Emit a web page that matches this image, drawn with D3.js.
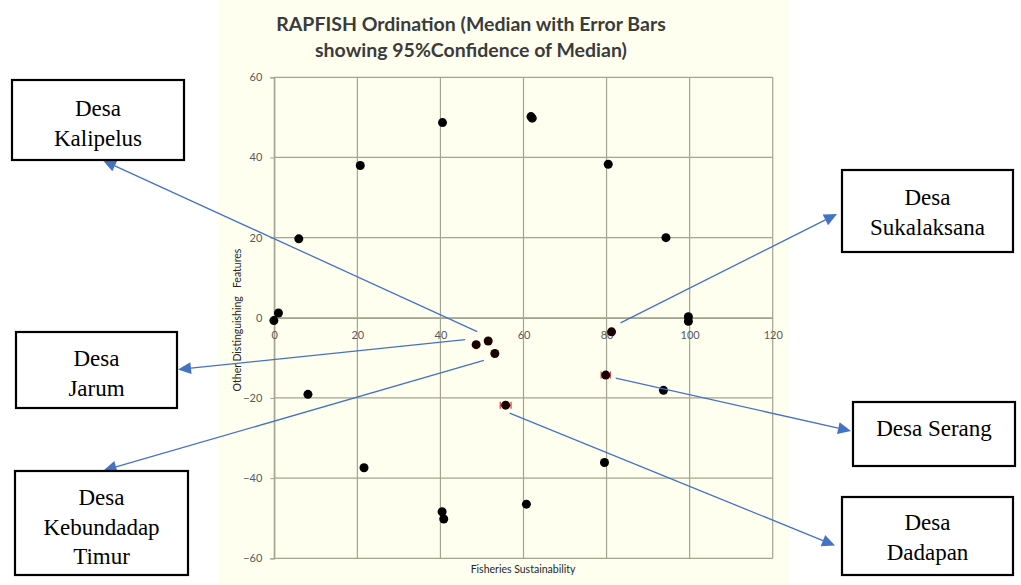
<!DOCTYPE html>
<html><head><meta charset="utf-8">
<script src="https://cdn.jsdelivr.net/npm/d3@7"></script>
<style>html,body{margin:0;padding:0;background:#fff;} svg{display:block}</style>
</head><body>
<svg id="c" width="1021" height="585"></svg>
<script>
// ---- data ----
const anchorX = [40.5, 20.7, 5.9, 1.0, -0.1, 61.8, 62.1, 80.4, 94.3, 99.7, 99.7, 8.1, 21.6, 40.4, 40.8, 93.7, 79.5, 60.7];
const anchorY = [48.7, 38.0, 19.7, 1.2, -0.7, 50.2, 49.8, 38.3, 20.0, 0.25, -0.85, -19.1, -37.4, -48.4, -50.2, -18.1, -36.1, -46.5];
const villageNames = ["Desa Kalipelus", "Desa Jarum", "Desa Kebundadap Timur", "Desa Sukalaksana", "Desa Serang", "Desa Dadapan"];
const villageX = [51.5, 48.6, 53.1, 81.2, 79.8, 55.7];
const villageY = [-5.8, -6.7, -8.9, -3.5, -14.3, -21.8];
const villageErrX = [0.4, 0.4, 0.6, 0.5, 1.1, 1.3];
const villageErrY = [0.4, 0.4, 0.9, 0.5, 0.6, 0.6];
const xTicks = [0, 20, 40, 60, 80, 100, 120];
const yTicks = [-60, -40, -20, 0, 20, 40, 60];
const titleLines = ["RAPFISH Ordination (Median with Error Bars", "showing 95%Confidence of Median)"];
const xTitle = "Fisheries Sustainability";
const yTitle = "Other Distinguishing   Features";
const boxLines = [["Desa", "Kalipelus"], ["Desa", "Jarum"], ["Desa", "Kebundadap", "Timur"], ["Desa", "Sukalaksana"], ["Desa Serang"], ["Desa", "Dadapan"]];

// ---- layout ----
const plot = {x0: 274.3, x1: 772.7, y0: 77.3, y1: 558.3};
const boxes = [
  {x: 12, y: 80, w: 172, h: 80, b: 116, tip: [103, 160.5], start: [-11, -9.5]},
  {x: 16, y: 332, w: 161, h: 76, b: 366, tip: [178, 369.5], start: [-11, -5]},
  {x: 15, y: 471, w: 173, h: 104, b: 505, tip: [103.5, 470.5], start: [-11, 7]},
  {x: 842, y: 170, w: 171, h: 82, b: 205, tip: [837, 214], start: [9, -9]},
  {x: 853, y: 402, w: 162, h: 64, b: 436, tip: [851, 431], start: [10, 3]},
  {x: 842, y: 497, w: 171, h: 78, b: 530, tip: [835, 545.5], start: [4, 8]}
];
const lineGap = 29.5;
const gridColor = "#a5a491";
const labelColor = "#595959";
const blue = "#4472C4";

const svg = d3.select("#c");
svg.append("rect").attr("x", 217).attr("y", 0).attr("width", 573).attr("height", 585).attr("fill", "#fffff0");

const x = d3.scaleLinear().domain([0, 120]).range([plot.x0, plot.x1]);
const y = d3.scaleLinear().domain([-60, 60]).range([plot.y1, plot.y0]);

// gridlines
const g = svg.append("g");
g.selectAll("line.v").data(xTicks).join("line")
  .attr("x1", d => x(d)).attr("x2", d => x(d)).attr("y1", plot.y0).attr("y2", plot.y1)
  .attr("stroke", gridColor).attr("stroke-width", 1.2);
g.selectAll("line.h").data(yTicks).join("line")
  .attr("x1", plot.x0).attr("x2", plot.x1).attr("y1", d => y(d)).attr("y2", d => y(d))
  .attr("stroke", gridColor).attr("stroke-width", 1.2);

// y axis at x=0
const yAxis = svg.append("g").attr("transform", `translate(${x(0)},0)`)
  .call(d3.axisLeft(y).tickValues(yTicks).tickSize(4).tickPadding(8));
yAxis.select(".domain").attr("stroke", gridColor).attr("stroke-width", 1.2);
yAxis.selectAll(".tick line").attr("stroke", gridColor);
yAxis.selectAll("text").attr("fill", labelColor).style("font-family", "Lato, sans-serif").style("font-size", "11px");

// x axis at y=0 (labels below)
const xAxis = svg.append("g").attr("transform", `translate(0,${y(0)})`)
  .call(d3.axisBottom(x).tickValues(xTicks).tickSize(0).tickPadding(13));
xAxis.select(".domain").attr("stroke", gridColor).attr("stroke-width", 1.2);
xAxis.selectAll("text").attr("fill", labelColor).style("font-family", "Lato, sans-serif").style("font-size", "11px");

// anchor points
svg.append("g").selectAll("circle").data(anchorX.map((d, i) => [d, anchorY[i]])).join("circle")
  .attr("cx", d => x(d[0])).attr("cy", d => y(d[1])).attr("r", 4.5).attr("fill", "#000");

// village points with error bars
const vg = svg.append("g");
const vdata = villageNames.map((n, i) => ({n, x: villageX[i], y: villageY[i], ex: villageErrX[i], ey: villageErrY[i]}));
const eb = vg.selectAll("g").data(vdata).join("g");
eb.append("line").attr("x1", d => x(d.x - d.ex)).attr("x2", d => x(d.x + d.ex)).attr("y1", d => y(d.y)).attr("y2", d => y(d.y)).attr("stroke", "#d04040").attr("stroke-width", 1.2);
eb.append("line").attr("x1", d => x(d.x - d.ex)).attr("x2", d => x(d.x - d.ex)).attr("y1", d => y(d.y) - 3.5).attr("y2", d => y(d.y) + 3.5).attr("stroke", "#d04040").attr("stroke-width", 1.2);
eb.append("line").attr("x1", d => x(d.x + d.ex)).attr("x2", d => x(d.x + d.ex)).attr("y1", d => y(d.y) - 3.5).attr("y2", d => y(d.y) + 3.5).attr("stroke", "#d04040").attr("stroke-width", 1.2);
eb.append("line").attr("x1", d => x(d.x)).attr("x2", d => x(d.x)).attr("y1", d => y(d.y - d.ey)).attr("y2", d => y(d.y + d.ey)).attr("stroke", "#d04040").attr("stroke-width", 1.2);
eb.append("circle").attr("cx", d => x(d.x)).attr("cy", d => y(d.y)).attr("r", 4.5).attr("fill", "#1a0000");

// titles
svg.append("g").selectAll("text").data(titleLines).join("text")
  .attr("x", 471).attr("y", (d, i) => 30.5 + i * 26)
  .attr("text-anchor", "middle").attr("fill", "#3b3b3b")
  .style("font-family", "Lato, sans-serif").style("font-weight", "bold").style("font-size", "19.5px")
  .text(d => d);
svg.append("text").attr("x", 523).attr("y", 573).attr("text-anchor", "middle").attr("fill", "#262626")
  .style("font-family", "Lato, sans-serif").style("font-size", "10.5px").text(xTitle);
svg.append("text").attr("transform", `translate(241,${320}) rotate(-90)`).attr("text-anchor", "middle").attr("fill", "#262626")
  .style("font-family", "Lato, sans-serif").style("font-size", "10.5px").style("white-space", "pre").text(yTitle);

// annotation arrows
const ag = svg.append("g");
vdata.forEach((d, i) => {
  const b = boxes[i];
  const sx = x(d.x) + b.start[0], sy = y(d.y) + b.start[1];
  const [tx, ty] = b.tip;
  const ang = Math.atan2(ty - sy, tx - sx);
  const L = 13, W = 6;
  const bx = tx - L * Math.cos(ang), by = ty - L * Math.sin(ang);
  ag.append("line").attr("x1", sx).attr("y1", sy).attr("x2", bx).attr("y2", by).attr("stroke", blue).attr("stroke-width", 1.3);
  const px = -Math.sin(ang), py = Math.cos(ang);
  ag.append("path").attr("d", `M${tx},${ty}L${bx + W * px},${by + W * py}L${bx - W * px},${by - W * py}Z`).attr("fill", blue);
});

// boxes
const bg = svg.append("g");
boxes.forEach((b, i) => {
  bg.append("rect").attr("x", b.x).attr("y", b.y).attr("width", b.w).attr("height", b.h)
    .attr("fill", "#fff").attr("stroke", "#000").attr("stroke-width", 2.2);
  bg.append("g").selectAll("text").data(boxLines[i]).join("text")
    .attr("x", b.x + b.w / 2).attr("y", (d, j) => b.b + j * lineGap)
    .attr("text-anchor", "middle").attr("fill", "#000")
    .style("font-family", "'Liberation Serif', 'Times New Roman', serif").style("font-size", "23px")
    .text(d => d);
});
</script>
</body></html>
